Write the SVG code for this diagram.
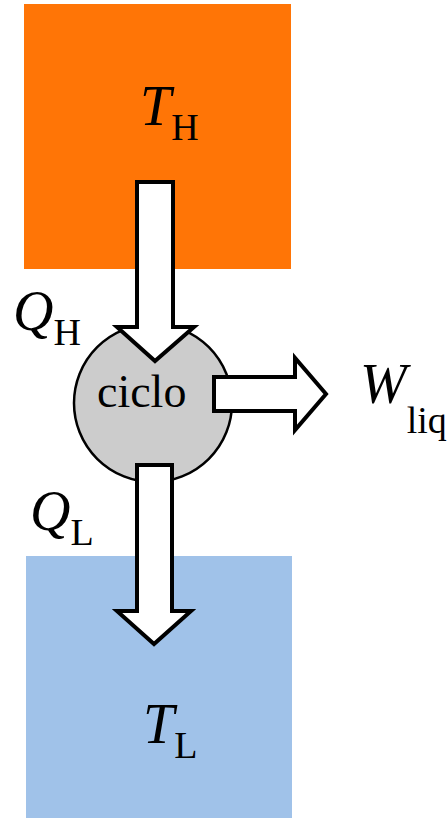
<svg xmlns="http://www.w3.org/2000/svg" width="447" height="818" viewBox="0 0 447 818">
<style>
.t{font-family:"Liberation Serif","Times New Roman",serif;fill:#000}
.i{font-style:italic}
.arrow{fill:#fff;stroke:#000;stroke-width:4;stroke-linejoin:miter}
</style>
<rect width="447" height="818" fill="#fff"/>
<g id="hot">
<rect x="24" y="4" width="267" height="265" fill="#FF7506"/>
<text class="t" x="140" y="125" font-size="56"><tspan class="i">T</tspan><tspan font-size="38" dy="15">H</tspan></text>
</g>
<g id="cold">
<rect x="26" y="556" width="266" height="262" fill="#A0C2E9"/>
<text class="t" x="143" y="743" font-size="56"><tspan class="i">T</tspan><tspan font-size="38" dy="15">L</tspan></text>
</g>
<g id="cycle">
<circle cx="153" cy="403" r="79" fill="#CCCCCC" stroke="#000" stroke-width="2.5"/>
<text class="t" x="97" y="407" font-size="46">ciclo</text>
</g>
<g id="connectors">
<polygon class="arrow" points="137,182 173,182 173,327 194,327 155,361 117,327 137,327"/>
<polygon class="arrow" points="214,377 295,377 295,358 326,394 295,430 295,411 214,411"/>
<polygon class="arrow" points="137,465 172,465 172,611 191,611 154,644 117,611 137,611"/>
</g>
<g id="labels">
<text class="t" x="13" y="330" font-size="56"><tspan class="i">Q</tspan><tspan font-size="38" dy="15">H</tspan></text>
<text class="t" x="30" y="530" font-size="56"><tspan class="i">Q</tspan><tspan font-size="38" dy="15">L</tspan></text>
<text class="t" x="360" y="403" font-size="56"><tspan class="i">W</tspan><tspan font-size="38" dy="30">liq</tspan></text>
</g>
</svg>
